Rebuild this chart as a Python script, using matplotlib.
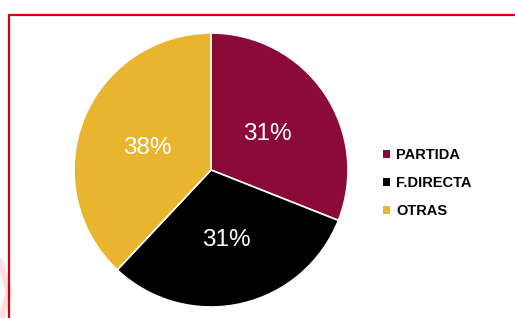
import matplotlib
matplotlib.use("Agg")
import matplotlib.pyplot as plt
from matplotlib.lines import Line2D

labels = ["PARTIDA", "F.DIRECTA", "OTRAS"]
values = [31, 31, 38]
colors = ["#8B0A3A", "#000000", "#E9B52F"]

W, H = 515, 318
fig = plt.figure(figsize=(W / 100, H / 100), dpi=100)
plt.rcParams['font.family'] = ['Liberation Sans', 'DejaVu Sans']

cx, cy, r = 211, 170, 137
ax = fig.add_axes([(cx - r) / W, (H - cy - r) / H, 2 * r / W, 2 * r / H])
wedges, texts, autotexts = ax.pie(
    values, colors=colors, startangle=90, counterclock=False,
    autopct=lambda p: f"{p:.0f}%", pctdistance=0.5,
    wedgeprops=dict(edgecolor="white", linewidth=1.2),
    textprops=dict(color="white", fontsize=17.5),
)
for t in autotexts:
    x, y = t.get_position()
    t.set_position((x, y - 0.02))
ax.set_xlim(-1, 1)
ax.set_ylim(-1, 1)
ax.set_aspect("equal")
ax.axis("off")

leg = fig.legend(
    wedges, labels, loc="center left",
    bbox_to_anchor=(383 / W, (H - 183) / H),
    frameon=False, handlelength=0.5, handleheight=0.5,
    handletextpad=0.4, labelspacing=0.95, borderpad=0, borderaxespad=0,
    prop=dict(family="Liberation Sans", weight="bold", size=10.5),
)
for h in leg.legend_handles:
    h.set_edgecolor("none")

# faint watermark stroke
fig.add_artist(Line2D([0 / W, 9 / W, 0 / W], [(H - 262) / H, (H - 292) / H, (H - 322) / H],
                      transform=fig.transFigure, color="#FBDDE4", linewidth=4.5, zorder=0))
# red border
fig.add_artist(Line2D([8.5 / W, 8.5 / W, 1.0], [0, (H - 14.5) / H, (H - 14.5) / H],
                      transform=fig.transFigure, color="#D0000C", linewidth=1.6, zorder=5))

fig.savefig("out.png", dpi=100)
